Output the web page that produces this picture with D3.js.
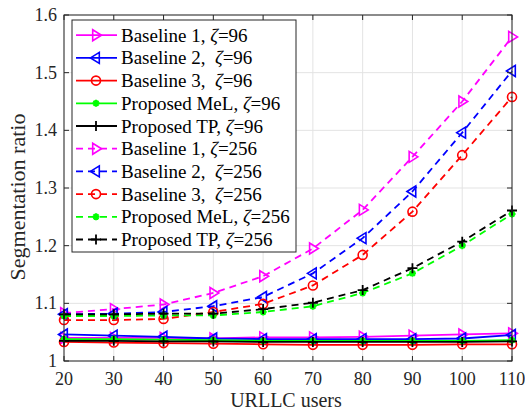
<!DOCTYPE html>
<html>
<head>
<meta charset="utf-8">
<script src="https://cdn.jsdelivr.net/npm/d3@7"></script>
<style>
  body { margin: 0; background: #fff; }
  text { font-family: "Liberation Serif", "Times New Roman", serif; }
</style>
</head>
<body>
<svg id="chart" width="525" height="412"></svg>
<script>
// Number of URLLC users on the x axis
const users = [20, 30, 40, 50, 60, 70, 80, 90, 100, 110];

// Segmentation ratio, zeta = 96
const baseline1_96 = [1.040, 1.040, 1.040, 1.039, 1.041, 1.041, 1.042, 1.044, 1.046, 1.048];
const baseline2_96 = [1.046, 1.044, 1.042, 1.039, 1.038, 1.038, 1.038, 1.038, 1.039, 1.045];
const baseline3_96 = [1.033, 1.032, 1.031, 1.030, 1.029, 1.028, 1.028, 1.028, 1.029, 1.029];
const mel_96       = [1.038, 1.038, 1.037, 1.036, 1.035, 1.035, 1.035, 1.035, 1.035, 1.036];
const tp_96        = [1.035, 1.035, 1.034, 1.034, 1.033, 1.033, 1.033, 1.033, 1.033, 1.034];

// Segmentation ratio, zeta = 256
const baseline1_256 = [1.083, 1.090, 1.098, 1.118, 1.147, 1.195, 1.262, 1.354, 1.450, 1.562];
const baseline2_256 = [1.081, 1.082, 1.085, 1.095, 1.111, 1.152, 1.213, 1.294, 1.396, 1.503];
const baseline3_256 = [1.071, 1.071, 1.073, 1.085, 1.099, 1.131, 1.184, 1.259, 1.357, 1.458];
const mel_256       = [1.078, 1.078, 1.079, 1.079, 1.085, 1.095, 1.118, 1.152, 1.200, 1.255];
const tp_256        = [1.081, 1.081, 1.082, 1.082, 1.090, 1.101, 1.123, 1.161, 1.207, 1.261];

// Axis ticks
const xTicks = [20, 30, 40, 50, 60, 70, 80, 90, 100, 110];
const yTicks = [1, 1.1, 1.2, 1.3, 1.4, 1.5, 1.6];
const yTickLabels = ["1", "1.1", "1.2", "1.3", "1.4", "1.5", "1.6"];

// Legend entries: [prefix, zeta value]
const legendNames = [
  ["Baseline 1, ", "96"], ["Baseline 2,  ", "96"], ["Baseline 3,  ", "96"],
  ["Proposed MeL, ", "96"], ["Proposed TP, ", "96"],
  ["Baseline 1, ", "256"], ["Baseline 2,  ", "256"], ["Baseline 3,  ", "256"],
  ["Proposed MeL, ", "256"], ["Proposed TP, ", "256"]
];

const series = [
  { values: baseline1_96,  color: "#ff00ff", marker: "triRight", dashed: false },
  { values: baseline2_96,  color: "#0000ff", marker: "triLeft",  dashed: false },
  { values: baseline3_96,  color: "#ff0000", marker: "circle",   dashed: false },
  { values: mel_96,        color: "#00ff00", marker: "star",     dashed: false },
  { values: tp_96,         color: "#000000", marker: "plus",     dashed: false },
  { values: baseline1_256, color: "#ff00ff", marker: "triRight", dashed: true },
  { values: baseline2_256, color: "#0000ff", marker: "triLeft",  dashed: true },
  { values: baseline3_256, color: "#ff0000", marker: "circle",   dashed: true },
  { values: mel_256,       color: "#00ff00", marker: "star",     dashed: true },
  { values: tp_256,        color: "#000000", marker: "plus",     dashed: true }
].map((s, i) => ({ ...s, name: legendNames[i] }));

const svg = d3.select("#chart");
const margin = { left: 64, right: 13, top: 15, bottom: 51 };
const W = 525, H = 412;
const x = d3.scaleLinear().domain([20, 110]).range([margin.left, W - margin.right]);
const y = d3.scaleLinear().domain([1, 1.6]).range([H - margin.bottom, margin.top]);

const axisColor = "#262626";
const tickFont = 18, legendFont = 19, titleFont = 20;

// Grid
const grid = svg.append("g");
grid.selectAll("line.gx").data(xTicks).join("line")
  .attr("x1", d => x(d)).attr("x2", d => x(d))
  .attr("y1", y(1)).attr("y2", y(1.6))
  .attr("stroke", "#e3e3e3").attr("stroke-width", 1);
grid.selectAll("line.gy").data(yTicks).join("line")
  .attr("y1", d => y(d)).attr("y2", d => y(d))
  .attr("x1", x(20)).attr("x2", x(110))
  .attr("stroke", "#e3e3e3").attr("stroke-width", 1);

// Marker drawing
function drawMarker(g, type, cx, cy, color) {
  const sw = 1.6;
  if (type === "triRight") {
    const r = 5.5;
    g.append("path").attr("d", `M${cx + r},${cy} L${cx - r * 0.6},${cy - r} L${cx - r * 0.6},${cy + r} Z`)
      .attr("fill", "none").attr("stroke", color).attr("stroke-width", sw);
  } else if (type === "triLeft") {
    const r = 5.5;
    g.append("path").attr("d", `M${cx - r},${cy} L${cx + r * 0.6},${cy - r} L${cx + r * 0.6},${cy + r} Z`)
      .attr("fill", "none").attr("stroke", color).attr("stroke-width", sw);
  } else if (type === "circle") {
    g.append("circle").attr("cx", cx).attr("cy", cy).attr("r", 4.5)
      .attr("fill", "none").attr("stroke", color).attr("stroke-width", sw);
  } else if (type === "star") {
    const r = 3.5;
    let d = "";
    for (let k = 0; k < 4; k++) {
      const a = k * Math.PI / 4;
      d += `M${cx - r * Math.cos(a)},${cy - r * Math.sin(a)} L${cx + r * Math.cos(a)},${cy + r * Math.sin(a)} `;
    }
    g.append("path").attr("d", d).attr("stroke", color).attr("stroke-width", 2);
  } else if (type === "plus") {
    const r = 5;
    g.append("path").attr("d", `M${cx - r},${cy} L${cx + r},${cy} M${cx},${cy - r} L${cx},${cy + r}`)
      .attr("stroke", color).attr("stroke-width", 1.8);
  }
}

// Curves
const line = d3.line().x((d, i) => x(users[i])).y(d => y(d));
const plot = svg.append("g");
series.forEach(s => {
  const g = plot.append("g");
  g.append("path").attr("d", line(s.values))
    .attr("fill", "none").attr("stroke", s.color).attr("stroke-width", 1.8)
    .attr("stroke-dasharray", s.dashed ? "7,5" : null);
  s.values.forEach((v, i) => drawMarker(g, s.marker, x(users[i]), y(v), s.color));
});

// Axes box with inward ticks on all four sides
const axes = svg.append("g");
const tickLen = 5;
axes.append("rect").attr("x", x(20)).attr("y", y(1.6))
  .attr("width", x(110) - x(20)).attr("height", y(1) - y(1.6))
  .attr("fill", "none").attr("stroke", axisColor).attr("stroke-width", 1);
xTicks.forEach(t => {
  axes.append("line").attr("x1", x(t)).attr("x2", x(t)).attr("y1", y(1)).attr("y2", y(1) - tickLen)
    .attr("stroke", axisColor);
  axes.append("line").attr("x1", x(t)).attr("x2", x(t)).attr("y1", y(1.6)).attr("y2", y(1.6) + tickLen)
    .attr("stroke", axisColor);
  axes.append("text").attr("x", x(t)).attr("y", y(1) + 24)
    .attr("text-anchor", "middle").attr("font-size", tickFont).attr("fill", axisColor).text(t);
});
yTicks.forEach((t, i) => {
  axes.append("line").attr("y1", y(t)).attr("y2", y(t)).attr("x1", x(20)).attr("x2", x(20) + tickLen)
    .attr("stroke", axisColor);
  axes.append("line").attr("y1", y(t)).attr("y2", y(t)).attr("x1", x(110)).attr("x2", x(110) - tickLen)
    .attr("stroke", axisColor);
  axes.append("text").attr("x", x(20) - 7).attr("y", y(t) + 6)
    .attr("text-anchor", "end").attr("font-size", tickFont).attr("fill", axisColor).text(yTickLabels[i]);
});

// Axis titles
svg.append("text").attr("x", 286).attr("y", 407)
  .attr("text-anchor", "middle").attr("font-size", titleFont).attr("fill", axisColor).text("URLLC users");
svg.append("text").attr("transform", "translate(25,197) rotate(-90)")
  .attr("text-anchor", "middle").attr("font-size", 22).attr("fill", axisColor).text("Segmentation ratio");

// Legend
const leg = svg.append("g");
const lx = 72, ly = 20, lw = 224, lh = 232, rowH = 22.7, firstRow = 35.2;
leg.append("rect").attr("x", lx).attr("y", ly).attr("width", lw).attr("height", lh)
  .attr("fill", "#fff").attr("stroke", axisColor).attr("stroke-width", 1);
series.forEach((s, i) => {
  const cy = firstRow + i * rowH;
  const g = leg.append("g");
  g.append("line").attr("x1", 76).attr("x2", 117).attr("y1", cy).attr("y2", cy)
    .attr("stroke", s.color).attr("stroke-width", 1.8)
    .attr("stroke-dasharray", s.dashed ? "7,5" : null);
  drawMarker(g, s.marker, 96, cy, s.color);
  const t = g.append("text").attr("x", 121).attr("y", cy + 6.5)
    .attr("font-size", legendFont).attr("fill", "#000").style("white-space", "pre");
  t.append("tspan").text(s.name[0]);
  t.append("tspan").attr("font-style", "italic").text("ζ");
  t.append("tspan").text("=" + s.name[1]);
});
</script>
</body>
</html>
